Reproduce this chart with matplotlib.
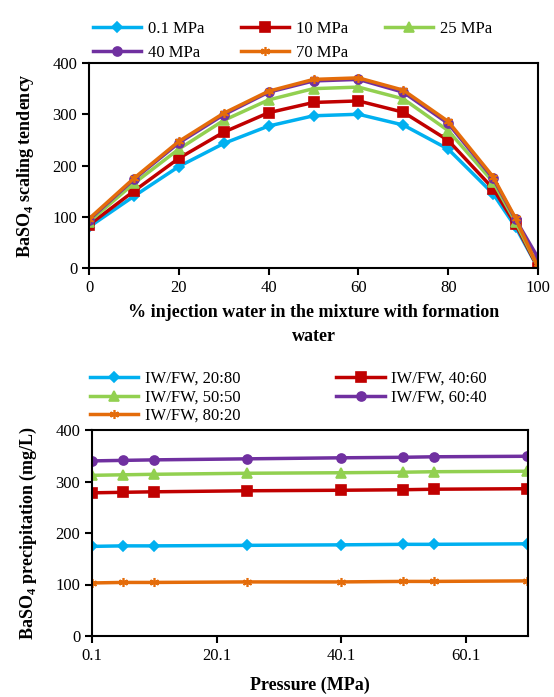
from matplotlib import pyplot as plt

plt.rcParams['font.family'] = ['Liberation Serif', 'DejaVu Serif']
plt.rcParams['mathtext.fontset'] = 'custom'
plt.rcParams['mathtext.rm'] = 'Liberation Serif'
plt.rcParams['mathtext.bf'] = 'Liberation Serif:bold'

# top chart: scaling tendency vs % injection water
mix_pct = [0, 10, 20, 30, 40, 50, 60, 70, 80, 90, 95, 100]
st_01 = [80, 140, 198, 243, 277, 297, 300, 279, 232, 145, 80, 0]
st_10 = [84, 150, 214, 265, 303, 323, 326, 304, 249, 155, 85, 0]
st_25 = [90, 165, 232, 288, 328, 350, 353, 330, 268, 168, 90, 2]
st_40 = [94, 173, 244, 299, 343, 365, 368, 343, 282, 175, 95, 20]
st_70 = [96, 175, 247, 302, 345, 368, 371, 347, 286, 178, 97, 2]

# bottom chart: precipitation vs pressure
pressure = [0.1, 5, 10, 25, 40, 50, 55, 70]
p_2080 = [174, 175, 175, 176, 177, 178, 178, 179]
p_4060 = [278, 279, 280, 282, 283, 284, 285, 286]
p_5050 = [312, 313, 314, 316, 317, 318, 319, 320]
p_6040 = [340, 341, 342, 344, 346, 347, 348, 349]
p_8020 = [103, 104, 104, 105, 105, 106, 106, 107]

blue = '#00B0F0'
red = '#C00000'
green = '#92D050'
purple = '#7030A0'
orange = '#E46C0A'
star = (6, 2, 0)

fig = plt.figure(figsize=(5.54, 6.97), dpi=100)
W, H = 554, 697

ax1 = fig.add_axes([89 / W, 1 - 268 / H, 449 / W, 205 / H])
top_series = [
    (st_01, blue, 'D', '0.1 MPa', 5),
    (st_10, red, 's', '10 MPa', 6.5),
    (st_25, green, '^', '25 MPa', 6.5),
    (st_40, purple, 'o', '40 MPa', 6.5),
    (st_70, orange, star, '70 MPa', 6.5),
]
handles = {}
for vals, col, mk, lab, ms in top_series:
    h, = ax1.plot(mix_pct, vals, color=col, marker=mk, label=lab,
                  linewidth=2.5, markersize=ms, markeredgewidth=1.2)
    handles[lab] = h
ax1.set_xlim(0, 100)
ax1.set_ylim(0, 400)
ax1.set_xticks(range(0, 101, 20))
ax1.set_yticks(range(0, 401, 100))
ax1.tick_params(direction='out', length=5, width=1.5, labelsize=12)
for s in ax1.spines.values():
    s.set_linewidth(1.5)
ax1.set_xlabel('% injection water in the mixture with formation\nwater',
               fontsize=13, fontweight='bold', labelpad=6, linespacing=1.5)
ax1.set_ylabel(r'BaSO$_\mathbf{4}$ scaling tendency', fontsize=13,
               fontweight='bold', labelpad=12)
order = ['0.1 MPa', '40 MPa', '10 MPa', '70 MPa', '25 MPa']
fig.legend([handles[k] for k in order], order, ncol=3, frameon=False,
           fontsize=12, loc='upper left', bbox_to_anchor=(78 / W, 1 - 6 / H),
           handlelength=2.9, columnspacing=2.2, handletextpad=0.4,
           labelspacing=0.45)

ax2 = fig.add_axes([92 / W, 1 - 636 / H, 436 / W, 206 / H])
bot_series = [
    (p_2080, blue, 'D', 'IW/FW, 20:80', 5),
    (p_4060, red, 's', 'IW/FW, 40:60', 6.5),
    (p_5050, green, '^', 'IW/FW, 50:50', 6.5),
    (p_6040, purple, 'o', 'IW/FW, 60:40', 6.5),
    (p_8020, orange, star, 'IW/FW, 80:20', 6.5),
]
handles2 = {}
for vals, col, mk, lab, ms in bot_series:
    h, = ax2.plot(pressure, vals, color=col, marker=mk, label=lab,
                  linewidth=2.5, markersize=ms, markeredgewidth=1.2)
    handles2[lab] = h
ax2.set_xlim(0.1, 70.1)
ax2.set_ylim(0, 400)
ax2.set_xticks([0.1, 20.1, 40.1, 60.1])
ax2.set_xticklabels(['0.1', '20.1', '40.1', '60.1'])
ax2.set_yticks(range(0, 401, 100))
ax2.tick_params(direction='out', length=5, width=1.5, labelsize=12)
for s in ax2.spines.values():
    s.set_linewidth(1.5)
ax2.set_xlabel('Pressure (MPa)', fontsize=13, fontweight='bold', labelpad=9)
ax2.set_ylabel(r'BaSO$_\mathbf{4}$ precipitation (mg/L)', fontsize=13,
               fontweight='bold', labelpad=12)
order2 = ['IW/FW, 20:80', 'IW/FW, 50:50', 'IW/FW, 80:20',
          'IW/FW, 40:60', 'IW/FW, 60:40']
fig.legend([handles2[k] for k in order2], order2, ncol=2, frameon=False,
           fontsize=12, loc='upper left', bbox_to_anchor=(75 / W, 1 - 356 / H),
           handlelength=2.9, columnspacing=5.75, handletextpad=0.4,
           labelspacing=0.15)

fig.savefig('out.png', dpi=100)
